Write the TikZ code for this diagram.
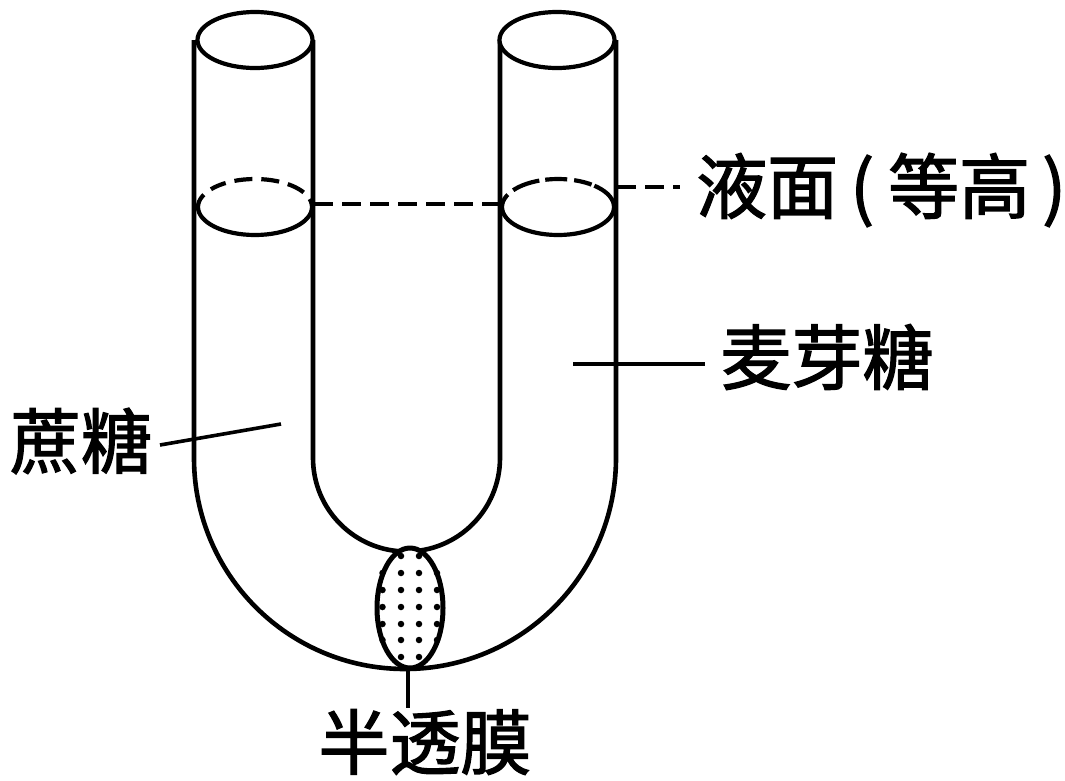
\documentclass[tikz,border=0pt]{standalone}
\usepackage{fontspec}
\usetikzlibrary{shapes.geometric}
\newfontfamily\cjk{Noto Sans CJK SC}[FakeBold=1.8]
\tikzset{
  tube/.style={line width=4.6pt,black},
  leader/.style={line width=3.6pt,black},
  dashline/.style={line width=3.6pt,black,dash pattern=on 19pt off 9pt},
  rim/.style={draw=black,line width=4.2pt,fill=white,ellipse,inner sep=0pt,minimum width=115pt,minimum height=56pt},
  lab/.style={inner sep=0pt,font=\cjk\fontsize{71pt}{71pt}\selectfont},
  pt/.style={circle,fill=black,inner sep=0pt,minimum size=6.5pt}
}
\begin{document}
\begin{tikzpicture}[x=1pt,y=-1pt]
\useasboundingbox (0,0) rectangle (1065,780);
% tube walls
\draw[tube] (194,40) -- (194,458) arc[start angle=180,end angle=0,radius=211] -- (616,40);
\draw[tube] (313,40) -- (313,458) arc[start angle=180,end angle=0,radius=93.5] -- (500,40);
% top rims
\node[rim] (topL) at (255,40) {};
\node[rim] (topR) at (557,40) {};
% liquid surfaces: solid front, dashed back
\draw[line width=4.2pt] (198,207) arc[start angle=180,end angle=0,x radius=57,y radius=28];
\draw[line width=4.2pt] (502,207) arc[start angle=180,end angle=0,x radius=56,y radius=28];
\draw[line width=4.2pt,dash pattern=on 14pt off 9pt on 16pt off 9pt on 18pt off 9pt on 18pt off 9pt on 18pt off 9pt on 30pt] (198,207) arc[start angle=180,end angle=360,x radius=57,y radius=28];
\draw[line width=4.2pt,dash pattern=on 14pt off 7pt on 28pt off 6pt on 22pt off 7pt on 18pt off 3pt on 40pt] (502,207) arc[start angle=180,end angle=360,x radius=56,y radius=28];
% membrane
\node[draw=black,line width=5pt,fill=white,ellipse,inner sep=0pt,minimum width=66pt,minimum height=120pt] (mem) at (410,608) {};
\foreach \yy in {573,590,607,624,640}{
  \node[pt] at (382.5,\yy) {};\node[pt] at (401,\yy) {};\node[pt] at (419,\yy) {};\node[pt] at (437,\yy) {};
}
\foreach \yy in {556,657}{
  \node[pt] at (401,\yy) {};\node[pt] at (419,\yy) {};
}
% labels
\node[lab,anchor=west] (liq) at (696,190) {液面\hspace{12pt}(\hspace{14pt}等高\hspace{12pt})};
\node[lab] (mai) at (827,357) {麦芽糖};
\node[lab] (zhe) at (81,441) {蔗糖};
\node[lab] (ban) at (425,742) {半透膜};
% leaders
\coordinate (a1) at (314,204);
\coordinate (a2) at (500,204);
\coordinate (b1) at (617,187);
\coordinate (b2) at (680,187);
\coordinate (c1) at (573,364);
\coordinate (c2) at (705,364);
\coordinate (d1) at (160,445);
\coordinate (d2) at (281,424);
\coordinate (e1) at (408,668);
\coordinate (e2) at (408,708);
\draw[dashline] (a1) -- (a2);
\draw[dashline] (b1) -- (b2);
\draw[leader] (c1) -- (c2);
\draw[leader] (d1) -- (d2);
\draw[leader] (e1) -- (e2);
\end{tikzpicture}
\end{document}
